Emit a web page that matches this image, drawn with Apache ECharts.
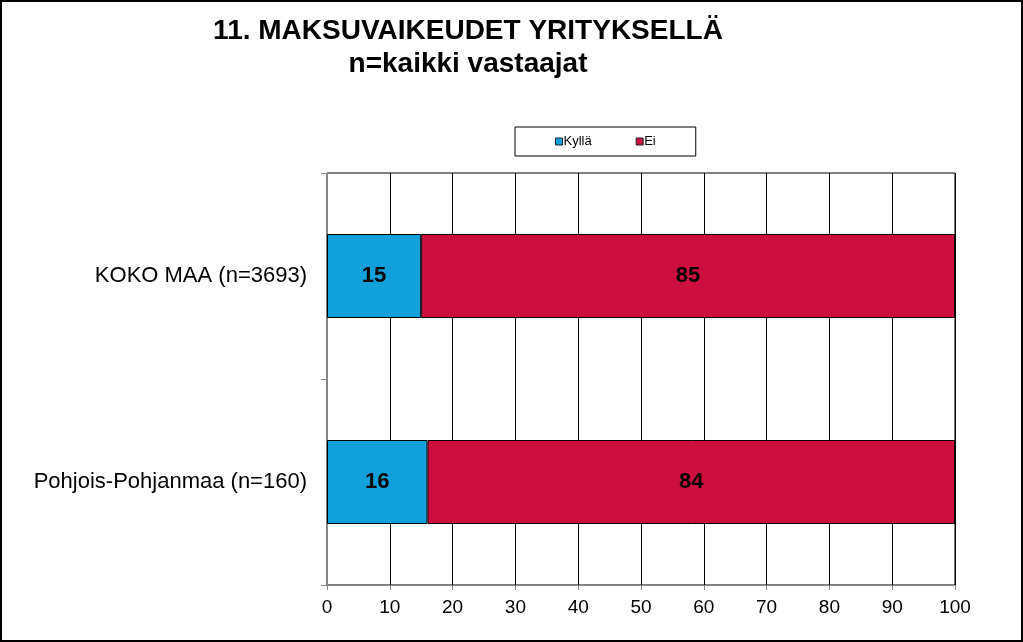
<!DOCTYPE html>
<html>
<head>
<meta charset="utf-8">
<script src="https://cdn.jsdelivr.net/npm/echarts@6/dist/echarts.min.js"></script>
<style>
  html, body { margin: 0; padding: 0; background: #fff; }
  #chart { width: 1023px; height: 642px; box-sizing: border-box; border: 2px solid #000; }
</style>
</head>
<body>
<div id="chart"></div>
<script>
var categories = ['KOKO MAA (n=3693)', 'Pohjois-Pohjanmaa (n=160)'];
var kylla = [15, 16];
var ei = [85, 84];
var seriesNames = ['Kyllä', 'Ei'];

var myChart = echarts.init(document.getElementById('chart'));
var font = 'Arial, "Liberation Sans", sans-serif';
var option = {
  animation: false,
  textStyle: { fontFamily: font },
  title: {
    text: '11. MAKSUVAIKEUDET YRITYKSELLÄ\nn=kaikki vastaajat',
    left: 461,
    textAlign: 'center',
    top: 8,
    textStyle: {
      fontSize: 28,
      fontWeight: 'bold',
      color: '#000',
      lineHeight: 33,
      fontFamily: font
    }
  },
  legend: {
    data: seriesNames,
    left: 513,
    top: 125,
    width: 186,
    padding: [8, 40, 8, 40],
    itemGap: 44,
    itemWidth: 7,
    itemHeight: 7,
    borderColor: '#000',
    borderWidth: 1,
    icon: 'rect',
    textStyle: { fontSize: 13, color: '#000', padding: [0, 0, 0, -4] },
    itemStyle: { borderColor: '#222', borderWidth: 1 }
  },
  grid: {
    left: 325,
    right: 66,
    top: 171,
    bottom: 55,
    show: true,
    borderColor: '#000',
    borderWidth: 1
  },
  xAxis: {
    type: 'value',
    min: 0,
    max: 100,
    interval: 10,
    axisLine: { show: true, lineStyle: { color: '#888' } },
    axisTick: { show: true, length: 5, lineStyle: { color: '#888' } },
    axisLabel: { fontSize: 19, color: '#000', margin: 13 },
    splitLine: { show: true, lineStyle: { color: '#000', width: 1 } }
  },
  yAxis: {
    type: 'category',
    data: categories,
    inverse: true,
    axisLine: { show: true, lineStyle: { color: '#888' } },
    axisTick: { show: true, length: 6, lineStyle: { color: '#888' } },
    axisLabel: { fontSize: 22, color: '#000', margin: 20 },
    splitLine: { show: false }
  },
  series: [{
    name: 'Kyllä',
    type: 'bar',
    stack: 'all',
    data: kylla,
    barWidth: 84,
    itemStyle: { color: '#11A0DC', borderColor: '#000', borderWidth: 1 },
    label: { show: true, position: 'inside', fontSize: 22, fontWeight: 'bold', color: '#000' }
  }, {
    name: 'Ei',
    type: 'bar',
    stack: 'all',
    data: ei,
    barWidth: 84,
    itemStyle: { color: '#CC0F3E', borderColor: '#000', borderWidth: 1 },
    label: { show: true, position: 'inside', fontSize: 22, fontWeight: 'bold', color: '#000' }
  }]
};
myChart.setOption(option);
</script>
</body>
</html>
